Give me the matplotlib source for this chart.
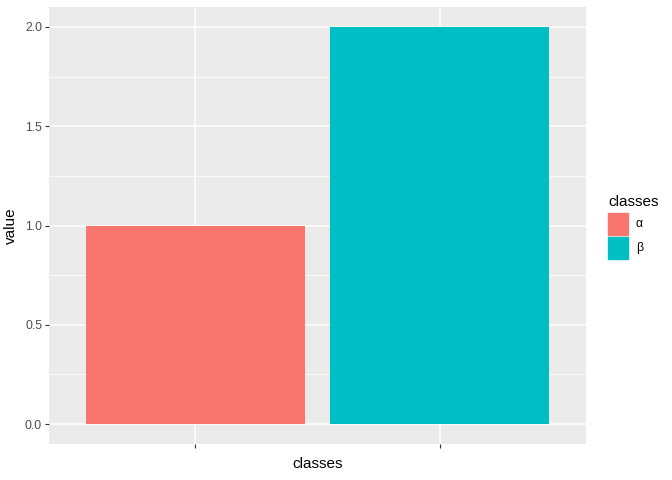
import matplotlib.pyplot as plt
from matplotlib.patches import Rectangle

plt.rcParams["font.family"] = ["Liberation Sans", "DejaVu Sans"]

classes = ["α", "β"]
values = [1, 2]
colors = ["#F8766D", "#00BFC4"]
yticks = [0.0, 0.5, 1.0, 1.5, 2.0]
yminor = [0.25, 0.75, 1.25, 1.75]

fig = plt.figure(figsize=(6.72, 4.8), dpi=100)
ax = fig.add_axes([49/672, 1-444/480, (586-49)/672, (444-7)/480])
ax.set_facecolor("#EBEBEB")

xpos = list(range(1, len(classes) + 1))
ax.bar(xpos, values, width=0.9, color=colors, zorder=3)

ax.set_xlim(0.4, 2.6)
ax.set_ylim(-0.1, 2.1)
ax.set_xticks(xpos)
ax.set_xticklabels(["", ""])
ax.set_yticks(yticks)
ax.set_yticklabels([f"{t:.1f}" for t in yticks])
ax.set_yticks(yminor, minor=True)
ax.grid(True, which="major", color="white", linewidth=1.1, zorder=0)
ax.grid(True, which="minor", axis="y", color="white", linewidth=0.55, zorder=0)
ax.set_axisbelow(True)
for s in ax.spines.values():
    s.set_visible(False)
ax.tick_params(axis="both", which="major", length=3, color="#333333", width=0.8,
               labelsize=8.8, labelcolor="#4D4D4D", pad=2)
ax.tick_params(axis="both", which="minor", length=0)

ax.set_xlabel("classes", fontsize=11, labelpad=4)
ax.set_ylabel("value", fontsize=11, labelpad=5)

# legend
fig.text(608/672, 1-202/480, "classes", fontsize=11, va="center", ha="left")
for i, (lab, c) in enumerate(zip(classes, colors)):
    y0 = 213 + i * 24
    fig.patches.append(Rectangle((608/672, 1-(y0+22)/480), 20/672, 22/480,
                                 transform=fig.transFigure, color=c, figure=fig))
    fig.text(636/672, 1-(y0+11)/480, lab, fontsize=8.8, va="center", ha="left")

fig.savefig("out.png", dpi=100)
